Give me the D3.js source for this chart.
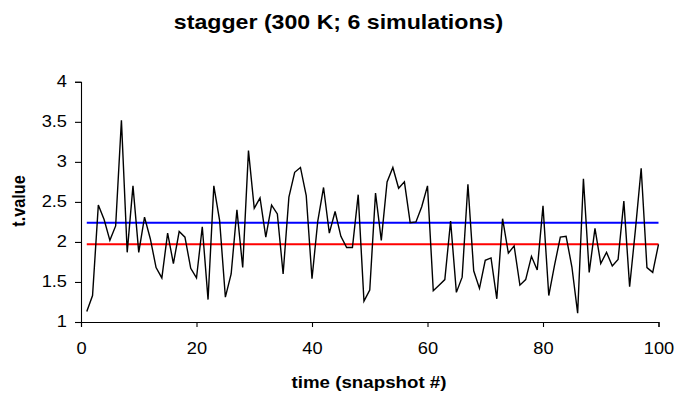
<!DOCTYPE html>
<html>
<head>
<meta charset="utf-8">
<script src="https://cdn.jsdelivr.net/npm/d3@7"></script>
<style>
  body { margin: 0; background: #fff; }
  svg { display: block; }
  text { font-family: "Liberation Sans", Arial, sans-serif; fill: #000; }
</style>
</head>
<body>
<svg id="chart" width="677" height="394"></svg>
<script>
// ---- data ----
const titleText = "stagger (300 K; 6 simulations)";
const xLabel = "time (snapshot #)";
const yLabel = "t.value";
const xTicks = [0, 20, 40, 60, 80, 100];
const yTicks = [1, 1.5, 2, 2.5, 3, 3.5, 4];
const snapshots = d3.range(1, 101);
const tValues = [
  1.13, 1.33, 2.46, 2.28, 2.02, 2.20, 3.52, 1.87, 2.70, 1.87,
  2.31, 2.04, 1.68, 1.55, 2.11, 1.73, 2.13, 2.06, 1.67, 1.55,
  2.19, 1.28, 2.70, 2.27, 1.31, 1.60, 2.40, 1.68, 3.14, 2.42,
  2.55, 2.06, 2.46, 2.35, 1.60, 2.56, 2.87, 2.93, 2.58, 1.54,
  2.26, 2.68, 2.11, 2.38, 2.07, 1.93, 1.93, 2.59, 1.26, 1.40,
  2.61, 2.02, 2.75, 2.93, 2.67, 2.75, 2.24, 2.25, 2.44, 2.70,
  1.39, 1.46, 1.53, 2.26, 1.37, 1.56, 2.72, 1.64, 1.42, 1.77,
  1.80, 1.29, 2.29, 1.86, 1.95, 1.46, 1.53, 1.82, 1.65, 2.45,
  1.33, 1.71, 2.06, 2.07, 1.69, 1.11, 2.79, 1.62, 2.17, 1.73,
  1.87, 1.70, 1.78, 2.51, 1.44, 2.15, 2.92, 1.68, 1.62, 1.97
];
const refLines = [
  { value: 2.24, color: "#0000ff" },
  { value: 1.97, color: "#ff0000" }
];

// ---- layout ----
const svg = d3.select("#chart");
const plotL = 81, plotR = 658.5, plotT = 81.8, plotB = 322;
const stretch = 1.17; // horizontal text stretch seen in the reference

const x = d3.scaleLinear().domain([0, 100]).range([plotL, plotR]);
const y = d3.scaleLinear().domain([1, 4]).range([plotB, plotT]);

// title
svg.append("text")
  .attr("transform", `translate(338.5,29) scale(${stretch},1)`)
  .attr("text-anchor", "middle")
  .attr("font-size", 19.8).attr("font-weight", "bold")
  .text(titleText);

// axes
const xAxis = svg.append("g")
  .attr("transform", `translate(0,${plotB})`)
  .call(d3.axisBottom(x).tickValues(xTicks).tickSize(5).tickPadding(10).tickFormat(d3.format("d")));
const yAxis = svg.append("g")
  .attr("transform", `translate(${plotL},0)`)
  .call(d3.axisLeft(y).tickValues(yTicks).tickSize(6).tickPadding(8).tickFormat(d => d3.format("")(d)));

[xAxis, yAxis].forEach(g => {
  g.select(".domain").attr("stroke", "#000").attr("stroke-width", 1.1);
  g.selectAll(".tick line").attr("stroke", "#000").attr("stroke-width", 1.1);
  g.selectAll(".tick text")
    .attr("font-family", "'Liberation Sans', Arial, sans-serif")
    .attr("font-size", 15.6).attr("fill", "#000");
});
xAxis.selectAll(".tick text").attr("y", 21).attr("dy", "0.72em")
  .attr("transform", `scale(${stretch},1)`);
yAxis.selectAll(".tick text").attr("x", -14 / stretch)
  .attr("transform", `scale(${stretch},1)`);

// reference lines
svg.selectAll("line.ref")
  .data(refLines)
  .enter().append("line")
  .attr("class", "ref")
  .attr("x1", x(1)).attr("x2", x(100))
  .attr("y1", d => y(d.value)).attr("y2", d => y(d.value))
  .attr("stroke", d => d.color)
  .attr("stroke-width", 2);

// series line
const pts = snapshots.map((s, i) => [s, tValues[i]]);
svg.append("path")
  .datum(pts)
  .attr("fill", "none")
  .attr("stroke", "#000")
  .attr("stroke-width", 1.4)
  .attr("stroke-linejoin", "miter")
  .attr("d", d3.line().x(d => x(d[0])).y(d => y(d[1])));

// axis titles
svg.append("text")
  .attr("transform", `translate(369,388) scale(${stretch},1)`)
  .attr("text-anchor", "middle")
  .attr("font-size", 16).attr("font-weight", "bold")
  .text(xLabel);

svg.append("text")
  .attr("transform", `translate(25,201) rotate(-90) scale(1,${stretch})`)
  .attr("text-anchor", "middle")
  .attr("font-size", 16.2).attr("font-weight", "bold")
  .text(yLabel);
</script>
</body>
</html>
